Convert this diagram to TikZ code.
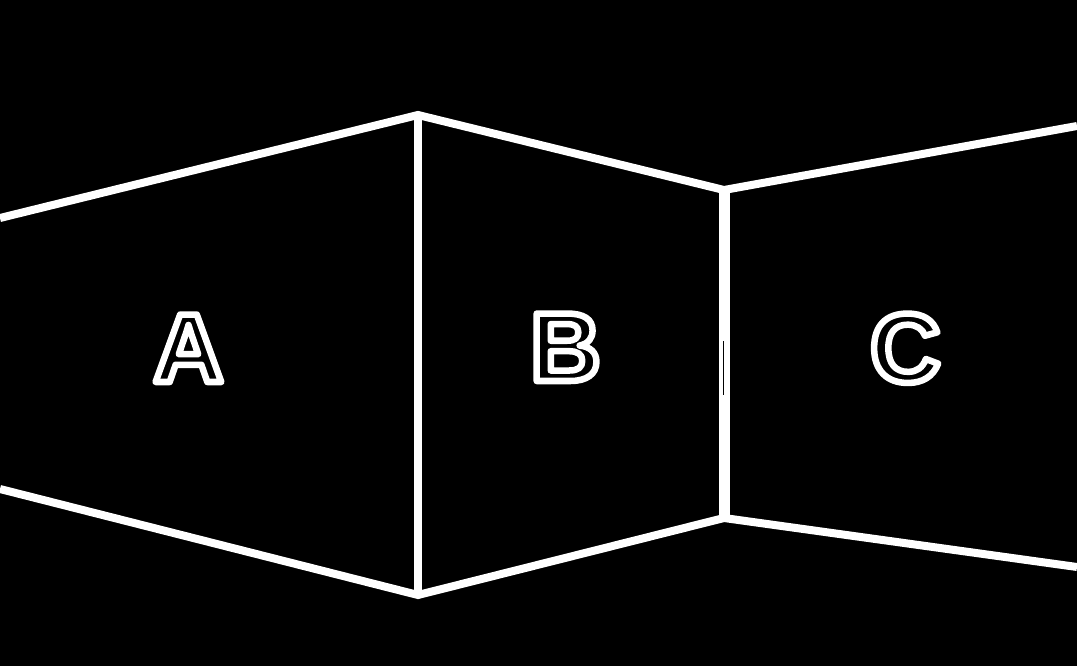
\documentclass[tikz,border=0pt]{standalone}
\usepackage{fontspec}
\setmainfont{Liberation Sans}
\newcommand{\hollow}[1]{\special{pdf:literal direct q 1 Tr 6.5 w 1 j 1 1 1 RG}#1\special{pdf:literal direct Q}}
\begin{document}
\begin{tikzpicture}[x=1pt,y=-1pt,
  edge/.style={draw=white,line width=8pt,line join=miter},
  joint/.style={draw=white,line width=11pt},
  letter/.style={font=\fontsize{98}{98}\selectfont\bfseries,text=white,inner sep=0pt,anchor=base}]
\fill[black] (0,0) rectangle (1077,666);
\useasboundingbox (0,0) rectangle (1077,666);
% corner points
\coordinate (tl) at (0,218);
\coordinate (tab) at (418,115);
\coordinate (tbc) at (724,190);
\coordinate (tr) at (1077,126);
\coordinate (bl) at (0,489);
\coordinate (bab) at (418,595);
\coordinate (bbc) at (724,518);
\coordinate (br) at (1077,567);
\coordinate (gapt) at (723,341);
\coordinate (gapb) at (723,395);
% edges
\draw[edge] (tl) -- (tab) -- (tbc) -- (tr);
\draw[edge] (bl) -- (bab) -- (bbc) -- (br);
\draw[edge] (tab) -- (bab);
\draw[joint] (tbc) -- (bbc);
\draw[black,line width=1pt] (gapt) -- (gapb);
% labels
\node[letter] (A) at (188.5,382) {\hollow{A}};
\node[letter] (B) at (565.5,381) {\hollow{B}};
\node[letter] (C) at (905.5,382) {\hollow{C}};
\end{tikzpicture}
\end{document}
